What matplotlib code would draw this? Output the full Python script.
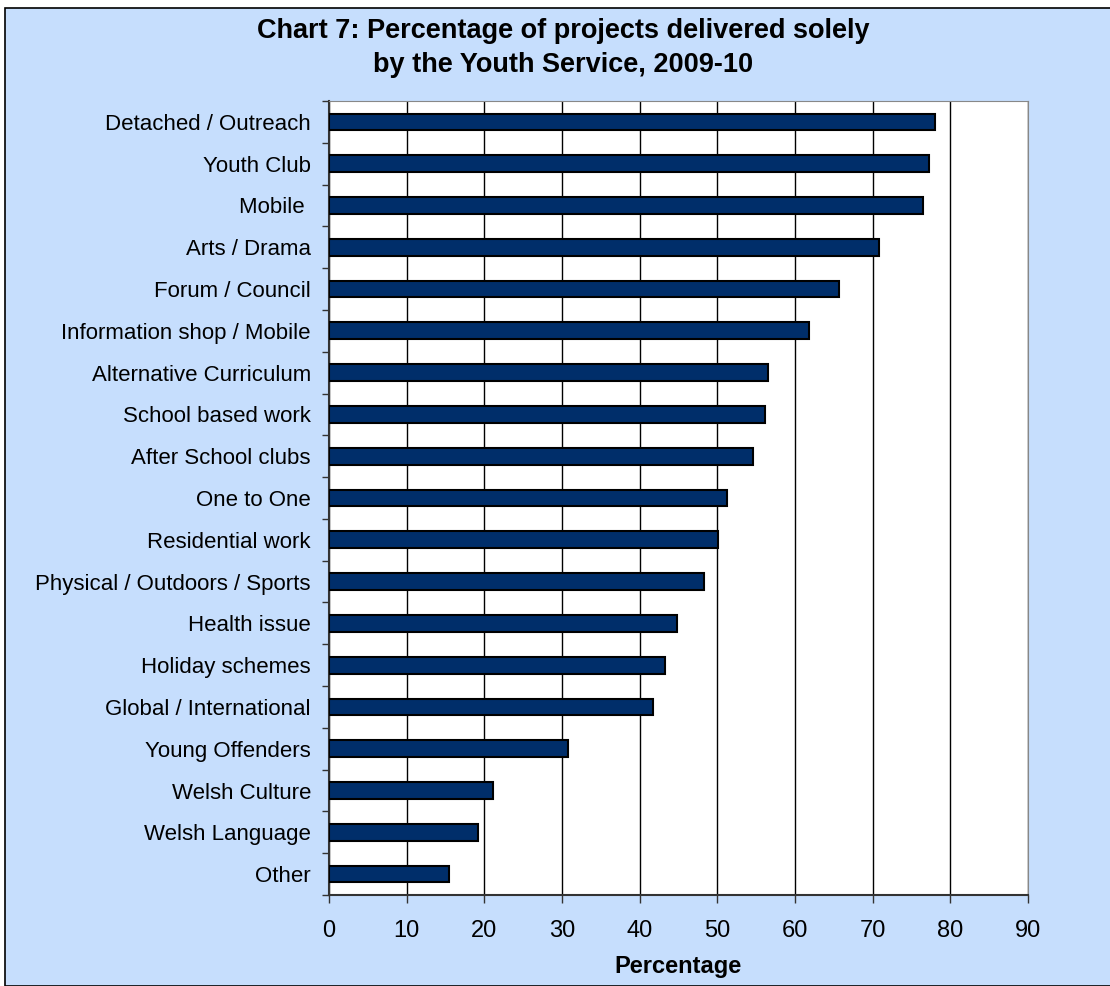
import numpy as np
import matplotlib.pyplot as plt
from matplotlib.patches import Rectangle

# data (top to bottom)
categories = ['Detached / Outreach', 'Youth Club', 'Mobile ', 'Arts / Drama',
              'Forum / Council', 'Information shop / Mobile', 'Alternative Curriculum',
              'School based work', 'After School clubs', 'One to One',
              'Residential work', 'Physical / Outdoors / Sports', 'Health issue',
              'Holiday schemes', 'Global / International', 'Young Offenders',
              'Welsh Culture', 'Welsh Language', 'Other']
values = [78.0, 77.3, 76.5, 70.8, 65.7, 61.8, 56.5, 56.2, 54.6, 51.2,
          50.1, 48.3, 44.8, 43.3, 41.7, 30.8, 21.1, 19.2, 15.5]
xticks = list(range(0, 100, 10))

plt.rcParams['font.family'] = ['Liberation Sans', 'DejaVu Sans']

W, H = 1110, 986
fig = plt.figure(figsize=(W / 100, H / 100), dpi=100)
fig.patch.set_facecolor('white')

# light blue chart frame
fig.patches.append(Rectangle((5 / W, 0), 1.2, (H - 8) / H, transform=fig.transFigure,
                             facecolor='#C6DEFD', edgecolor='black', lw=1.2, zorder=-1))

ax = fig.add_axes([329 / W, (H - 895) / H, (1028 - 329) / W, (895 - 101) / H])
ax.set_facecolor('white')

y = np.arange(len(categories))
ax.barh(y, values, height=0.4, color='#002E6A', edgecolor='black', lw=1.5, zorder=3)

ax.set_ylim(len(categories) - 0.5, -0.5)
ax.set_yticks(y)
ax.set_yticklabels(categories, fontsize=16)
ax.set_yticks(np.arange(-0.5, len(categories), 1), minor=True)
ax.tick_params(axis='y', which='major', length=0, pad=13)
ax.tick_params(axis='y', which='minor', length=5, width=1, color='#333333')

ax.set_xlim(0, 90)
ax.set_xticks(xticks)
ax.set_xticklabels([str(t) for t in xticks], fontsize=17)
ax.tick_params(axis='x', length=6, width=1, color='#333333', pad=12)
ax.grid(axis='x', color='black', lw=1, zorder=1)
ax.set_xlabel('Percentage', fontsize=17, fontweight='bold', labelpad=9)

for side in ['top', 'right']:
    ax.spines[side].set_color('#888888')
for side in ['left', 'bottom']:
    ax.spines[side].set_color('#333333')
    ax.spines[side].set_linewidth(1.5)

fig.text(563 / W, 1 - 48 / H,
         'Chart 7: Percentage of projects delivered solely\nby the Youth Service, 2009-10',
         ha='center', va='center', fontsize=19.5, fontweight='bold', linespacing=1.35)

fig.savefig('out.png', dpi=100)
